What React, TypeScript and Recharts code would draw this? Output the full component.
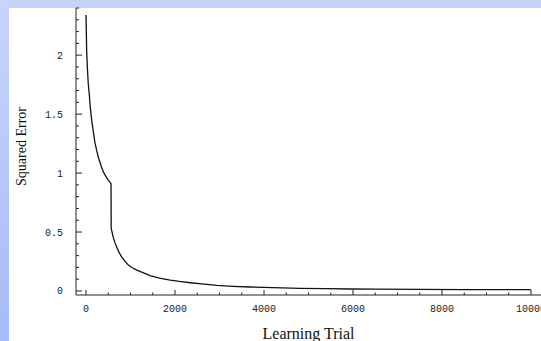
import { LineChart, Line, XAxis, YAxis } from "recharts";

// learning trial (x) and squared error (y)
const trials = [
  0, 15, 30, 50, 75, 95, 130, 165, 200, 240, 280, 315, 350, 390, 450, 500, 562,
  566, 590, 615, 650, 690, 740, 800, 870, 950, 1040, 1140, 1280, 1440, 1650,
  1890, 2100, 2340, 2600, 2940, 3300, 3690, 4200, 4810, 5400, 5930, 6500, 7500,
  8500, 10000,
];
const errors = [
  2.34, 2.03, 1.9, 1.76, 1.66, 1.56, 1.44, 1.35, 1.26, 1.19, 1.13, 1.09, 1.05,
  1.01, 0.97, 0.94, 0.91, 0.53, 0.49, 0.45, 0.41, 0.37, 0.33, 0.29, 0.255, 0.22,
  0.197, 0.177, 0.155, 0.13, 0.11, 0.093, 0.081, 0.07, 0.06, 0.048, 0.04, 0.034,
  0.028, 0.023, 0.02, 0.017, 0.015, 0.013, 0.012, 0.011,
];

const xTicks = [
  0, 500, 1000, 1500, 2000, 2500, 3000, 3500, 4000, 4500, 5000, 5500, 6000,
  6500, 7000, 7500, 8000, 8500, 9000, 9500, 10000,
];
const xMajor = [0, 2000, 4000, 6000, 8000, 10000];
const yTicks = [
  0, 0.1, 0.2, 0.3, 0.4, 0.5, 0.6, 0.7, 0.8, 0.9, 1, 1.1, 1.2, 1.3, 1.4, 1.5,
  1.6, 1.7, 1.8, 1.9, 2, 2.1, 2.2, 2.3, 2.4,
];
const yMajor = [0, 0.5, 1, 1.5, 2];

const data = trials.map((t, i) => ({ trial: t, error: errors[i] }));

const monoFont = "'Liberation Mono', 'DejaVu Sans Mono', monospace";
const serifFont = "'Liberation Serif', 'DejaVu Serif', serif";

const XTick = ({ x, y, payload }: any) => {
  const major = xMajor.includes(payload.value);
  return (
    <g>
      <line x1={x} y1={y} x2={x} y2={y - (major ? 5 : 2.5)} stroke="#222" />
      {major && (
        <text x={x} y={y + 17} textAnchor="middle" fontSize={10} fontFamily={monoFont} fill="#222">
          {payload.value}
        </text>
      )}
    </g>
  );
};

const YTick = ({ x, y, payload }: any) => {
  const major = yMajor.includes(payload.value);
  return (
    <g>
      <line x1={x} y1={y} x2={x + (major ? 6 : 3)} y2={y} stroke="#222" />
      {major && (
        <text x={x - 13} y={y + 3.5} textAnchor="end" fontSize={10} fontFamily={monoFont} fill="#222">
          {payload.value}
        </text>
      )}
    </g>
  );
};

const App = () => {
  return (
    <div
      style={{
        position: "fixed",
        left: 0,
        top: 0,
        width: 541,
        height: 341,
        background: "#fff",
        overflow: "hidden",
      }}
    >
      {/* slide-style blue border, top and left */}
      <div style={{ position: "absolute", left: 0, top: 0, width: 541, height: 8, background: "#c7d2f9" }} />
      <div
        style={{
          position: "absolute",
          left: 0,
          top: 0,
          width: 9,
          height: 341,
          background: "linear-gradient(to bottom, #c9d4fa, #a6bbf7)",
        }}
      />
      <div style={{ position: "absolute", left: 0, top: 0 }}>
        <LineChart width={541} height={341} data={data} margin={{ top: 8, right: 0, left: 16, bottom: 0 }}>
          <XAxis
            dataKey="trial"
            type="number"
            domain={[-225, 10225]}
            ticks={xTicks}
            interval={0}
            tickSize={0}
            tickMargin={0}
            tickLine={false}
            tick={<XTick />}
            height={46}
            stroke="#222"
            allowDataOverflow
            label={{
              content: ({ viewBox }: any) => (
                <text
                  x={viewBox.x + viewBox.width / 2}
                  y={viewBox.y + 44}
                  textAnchor="middle"
                  fontSize={16}
                  fontFamily={serifFont}
                  fill="#111"
                >
                  Learning Trial
                </text>
              ),
            }}
          />
          <YAxis
            type="number"
            domain={[-0.034, 2.4]}
            ticks={yTicks}
            interval={0}
            tickSize={0}
            tickMargin={0}
            tickLine={false}
            tick={<YTick />}
            width={60}
            stroke="#222"
            allowDataOverflow
            label={{
              content: ({ viewBox }: any) => {
                const cx = viewBox.x + 5;
                const cy = viewBox.y + viewBox.height / 2 - 5;
                return (
                  <text
                    x={cx}
                    y={cy}
                    transform={`rotate(-90 ${cx} ${cy})`}
                    textAnchor="middle"
                    dominantBaseline="central"
                    fontSize={14}
                    fontFamily={serifFont}
                    fill="#111"
                  >
                    Squared Error
                  </text>
                );
              },
            }}
          />
          <Line
            type="linear"
            dataKey="error"
            stroke="#111"
            strokeWidth={1.3}
            dot={false}
            isAnimationActive={false}
          />
        </LineChart>
      </div>
    </div>
  );
};

export default App;
